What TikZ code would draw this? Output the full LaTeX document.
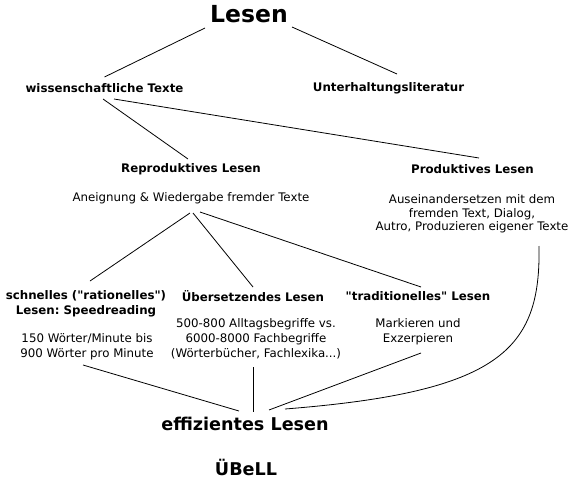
\documentclass[tikz,border=0pt]{standalone}
\usepackage{fontspec}
\setmainfont{DejaVu Sans}[Ligatures=TeXOff]
\usetikzlibrary{calc}
\frenchspacing
\begin{document}
\begin{tikzpicture}[x=1pt,y=-1pt,
  every node/.style={inner sep=0pt, align=center},
  ttl/.style={font=\bfseries\fontsize{11.8}{15}\selectfont},
  dsc/.style={font=\fontsize{11.8}{15}\selectfont},
  dscb/.style={font=\fontsize{11.8}{13.3}\selectfont},
  big/.style={font=\bfseries\fontsize{23.5}{26}\selectfont},
  mid/.style={font=\bfseries\fontsize{17.6}{20}\selectfont},
  conn/.style={draw=black, line width=0.8pt}]
\useasboundingbox (0,0) rectangle (576,482);
\fill[white] (0,0) rectangle (576,482);

\node[big] (lesen) at (249,14) {Lesen};
\node[ttl] (wiss) at (104.5,88) {wissenschaftliche Texte};
\node[ttl] (unter) at (388.5,88) {Unterhaltungsliteratur};
\node[ttl] (repro) at (191,169) {Reproduktives Lesen};
\node[ttl] (prod) at (472.5,169) {Produktives Lesen};
\node[dsc] (aneig) at (191,198) {Aneignung \& Wiedergabe fremder Texte};
\node[dscb] (proddesc) at (472,214) {Auseinandersetzen mit dem\\fremden Text, Dialog,\\Autro, Produzieren eigener Texte};
\node[ttl] (schnell) at (86,303.5) {schnelles ("rationelles")\\Lesen: Speedreading};
\node[ttl] (ueber) at (253,296) {Übersetzendes Lesen};
\node[ttl] (trad) at (418,296) {"traditionelles" Lesen};
\node[dsc] (speeddesc) at (87,347) {150 Wörter/Minute bis\\900 Wörter pro Minute};
\node[dsc] (ueberdesc) at (256,339) {500-800 Alltagsbegriffe vs.\\6000-8000 Fachbegriffe\\(Wörterbücher, Fachlexika...)};
\node[dsc] (traddesc) at (418,331.5) {Markieren und\\Exzerpieren};
\node[mid] (effiz) at (245,424) {effizientes Lesen};
\node[mid] (uebell) at (246,467) {ÜBeLL};

\draw[conn] ($(lesen.center)+(-44,14)$) -- ($(wiss.center)+(0,-11)$);
\draw[conn] ($(lesen.center)+(43,13)$) -- ($(unter.center)+(8.5,-14)$);
\draw[conn] ($(wiss.center)+(-1.5,11)$) -- ($(repro.center)+(-3,-10)$);
\draw[conn] ($(wiss.center)+(9.5,11)$) -- ($(prod.center)+(6.5,-11)$);
\draw[conn] ($(aneig.center)+(-1,15)$) -- ($(schnell.center)+(4,-22.5)$);
\draw[conn] ($(aneig.center)+(2,15)$) -- ($(ueber.center)+(0,-9)$);
\draw[conn] ($(aneig.center)+(9,14)$) -- ($(trad.center)+(3,-9)$);
\draw[conn] ($(speeddesc.center)+(-4,18)$) -- ($(effiz.center)+(-6,-13)$);
\draw[conn] ($(ueberdesc.center)+(-2.5,28)$) -- ($(effiz.center)+(8.5,-12)$);
\draw[conn] ($(traddesc.center)+(3,21.5)$) -- ($(effiz.center)+(24,-14)$);
\draw[conn] ($(proddesc.center)+(67,32)$) .. controls (541,350) and (500,392) .. ($(effiz.center)+(40,-15)$);
\end{tikzpicture}
\end{document}
